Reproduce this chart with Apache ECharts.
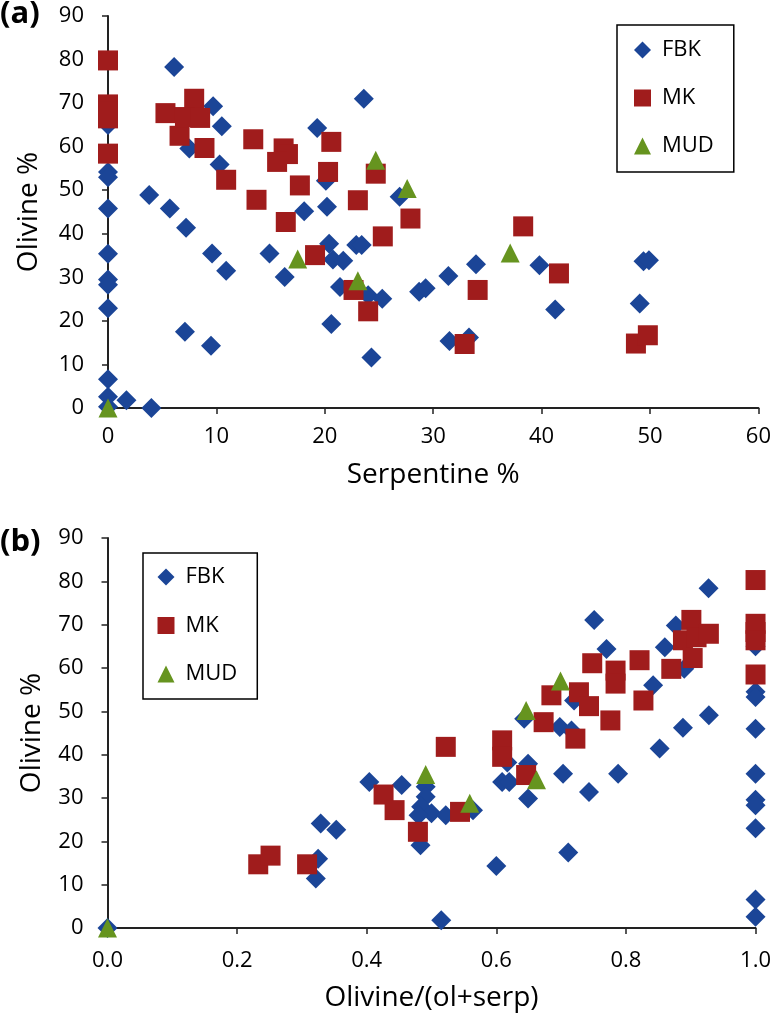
<!DOCTYPE html>
<html><head><meta charset="utf-8">
<script src="https://cdn.jsdelivr.net/npm/echarts@6/dist/echarts.min.js"></script>
<style>html,body{margin:0;padding:0;background:#fff}#c{width:774px;height:1016px}</style>
</head><body><div id="c"></div>
<script>
// ---- Data (a): Serpentine % vs Olivine %
const fbkA = [[0,65],[0,54.2],[0,53],[0,45.8],[0,35.4],[0,29.5],[0,28.3],[0,22.9],[0,6.6],[0,2.6],[0,0.3],
  [1.7,1.8],[4.0,0],[6.1,78.3],[3.8,48.9],[5.7,45.8],[7.2,41.4],[9.7,69.3],[10.5,64.7],[7.5,59.6],[10.3,55.9],
  [9.6,35.5],[10.9,31.5],[7.1,17.5],[9.5,14.3],[23.6,71],[19.3,64.3],[20.1,52.2],[18.1,45.2],[20.2,46.2],[26.9,48.5],
  [14.9,35.5],[16.3,30.1],[20.4,37.7],[20.75,34.1],[21.7,33.8],[22.9,37.4],[23.4,37.4],[21.4,27.8],[24,25.9],[25.3,25.1],
  [20.6,19.3],[24.3,11.6],[28.7,26.7],[29.3,27.5],[31.4,30.3],[33.95,33],[31.5,15.4],[33.3,16.2],[39.8,32.8],[41.25,22.6],
  [49.4,33.7],[49.9,33.9],[49.05,24]];
const mkA = [[0,79.8],[0,69.7],[0,68],[0,66.5],[0,58.4],[5.3,67.7],[6.6,62.5],[7.95,71],[7.1,66.8],[8.5,66.6],[8.9,59.7],
  [10.9,52.4],[13.4,61.7],[13.7,47.8],[16.2,59.6],[16.6,58.3],[15.6,56.5],[20.6,61.1],[20.3,54.2],[24.7,53.8],[17.7,51.1],
  [23.05,47.7],[16.4,42.7],[27.9,43.5],[25.35,39.4],[19.1,35.1],[22.65,27.1],[24,22.2],[34.1,27.1],[32.9,14.7],[38.3,41.7],
  [41.6,30.9],[48.7,14.8],[49.8,16.7]];
const mudA = [[0,0],[17.5,34.2],[23.05,29.2],[24.7,56.9],[27.6,50.4],[37.1,35.6]];

// ---- Data (b): Olivine/(ol+serp) vs Olivine %
const fbkB = [[0,0],[1,65],[1,54.5],[1,53.3],[1,46],[1,35.6],[1,29.6],[1,28.3],[1,23],[1,6.6],[1,2.6],
  [0.515,1.8],[0.6,14.3],[0.711,17.4],[0.703,35.6],[0.743,31.4],[0.788,35.6],[0.852,41.4],[0.888,46.2],[0.928,49.1],
  [0.9275,78.4],[0.751,71.1],[0.77,64.4],[0.877,69.8],[0.86,64.8],[0.89,59.8],[0.842,56],[0.72,52.5],[0.698,46.4],
  [0.716,45.6],[0.643,48.3],[0.404,33.7],[0.454,33],[0.491,32.6],[0.491,30.3],[0.484,28],[0.5,26.5],[0.48,26],
  [0.483,19.1],[0.522,26],[0.564,27.2],[0.609,33.7],[0.62,33.7],[0.649,37.9],[0.649,29.9],[0.329,24.1],[0.353,22.7],
  [0.325,16],[0.3215,11.4],[0.617,38.2]];
const mkB = [[1,80.3],[1,70.2],[1,68.3],[1,66.4],[1,58.5],[0.2326,14.7],[0.2516,16.7],[0.308,14.7],[0.426,30.8],
  [0.443,27.2],[0.479,22.2],[0.522,41.8],[0.609,43.3],[0.609,39.5],[0.544,26.8],[0.646,35.3],[0.673,47.5],[0.685,53.7],
  [0.7275,54.4],[0.743,51.2],[0.722,43.7],[0.776,47.9],[0.748,61.1],[0.784,59.4],[0.784,56.4],[0.821,61.8],[0.827,52.5],
  [0.87,59.8],[0.901,71.1],[0.888,66.4],[0.909,67.1],[0.928,67.9],[0.903,62.3]];
const mudB = [[0,0],[0.491,35.4],[0.559,28.8],[0.646,50.2],[0.662,34.2],[0.699,57]];

const seriesNames = ['FBK','MK','MUD'];
const xTicksA = [0,10,20,30,40,50,60];
const xTicksB = [0,0.2,0.4,0.6,0.8,1.0];

const FONT = 'Open Sans';
const BLUE = '#1B4597', RED = '#A01C1C', GREEN = '#66941F';
const axisCol = '#222';

function yAxisCfg(gi, gap) {
  return {
    gridIndex: gi, type: 'value', min: 0, max: 90, interval: 10,
    name: 'Olivine %', nameLocation: 'middle', nameGap: gap,
    nameTextStyle: {fontFamily: FONT, fontSize: 28, color: '#000'},
    axisLine: {show: true, lineStyle: {color: axisCol, width: 2}},
    axisTick: {show: true, length: 6, lineStyle: {color: axisCol, width: 1.5}},
    axisLabel: {fontFamily: FONT, fontSize: 22, color: '#000', margin: 24},
    splitLine: {show: false}
  };
}
function xAxisCfg(gi, opts) {
  return Object.assign({
    gridIndex: gi, type: 'value', nameLocation: 'middle',
    nameTextStyle: {fontFamily: FONT, fontSize: 28, color: '#000'},
    axisLine: {show: true, onZero: false, lineStyle: {color: axisCol, width: 2}},
    axisTick: {show: true, length: 6, lineStyle: {color: axisCol, width: 1.5}},
    splitLine: {show: false}
  }, opts);
}
function legendCfg(left, top, gap, padding) {
  return {
    data: seriesNames, orient: 'vertical', left: left, top: top,
    itemWidth: 17, itemHeight: 17, itemGap: gap,
    padding: padding, borderColor: '#000', borderWidth: 1.5, backgroundColor: '#fff',
    textStyle: {fontFamily: FONT, fontSize: 22, color: '#000', lineHeight: 20, padding: [0,0,0,6]}
  };
}
function sc(name, data, xi, sym, size, color) {
  return {name: name, type: 'scatter', xAxisIndex: xi, yAxisIndex: xi, data: data,
    symbol: sym, symbolSize: size, itemStyle: {color: color, opacity: 1}};
}

const chart = echarts.init(document.getElementById('c'), null, {renderer: 'canvas'});
chart.setOption({
  animation: false,
  backgroundColor: '#fff',
  grid: [
    {left: 108, top: 16, width: 651, height: 392},
    {left: 107.5, top: 538, width: 648.5, height: 390}
  ],
  xAxis: [
    xAxisCfg(0, {min: 0, max: 60, interval: 10, name: 'Serpentine %', nameGap: 53,
      axisLabel: {fontFamily: FONT, fontSize: 22, color: '#000', margin: 18,
        formatter: v => xTicksA.indexOf(v) >= 0 ? String(v) : ''}}),
    xAxisCfg(1, {min: 0, max: 1, interval: 0.2, name: 'Olivine/(ol+serp)', nameGap: 56,
      axisLabel: {fontFamily: FONT, fontSize: 22, color: '#000', margin: 22,
        formatter: v => v.toFixed(1)}})
  ],
  yAxis: [yAxisCfg(0, 65), yAxisCfg(1, 61)],
  legend: [
    legendCfg(617, 25, 26, [14, 20, 15, 17]),
    legendCfg(143, 553, 26.5, [13, 20, 14, 14.5])
  ],
  graphic: [
    {type: 'text', left: 0, top: -1, style: {text: '(a)', fontFamily: FONT, fontWeight: 'bold', fontSize: 31, fill: '#000'}},
    {type: 'text', left: 0, top: 527, style: {text: '(b)', fontFamily: FONT, fontWeight: 'bold', fontSize: 31, fill: '#000'}}
  ],
  series: [
    sc('FBK', fbkA, 0, 'diamond', 20, BLUE),
    sc('MK', mkA, 0, 'rect', 20, RED),
    sc('MUD', mudA, 0, 'triangle', 19, GREEN),
    sc('FBK', fbkB, 1, 'diamond', 20, BLUE),
    sc('MK', mkB, 1, 'rect', 20, RED),
    sc('MUD', mudB, 1, 'triangle', 19, GREEN)
  ]
});
</script>
</body></html>
